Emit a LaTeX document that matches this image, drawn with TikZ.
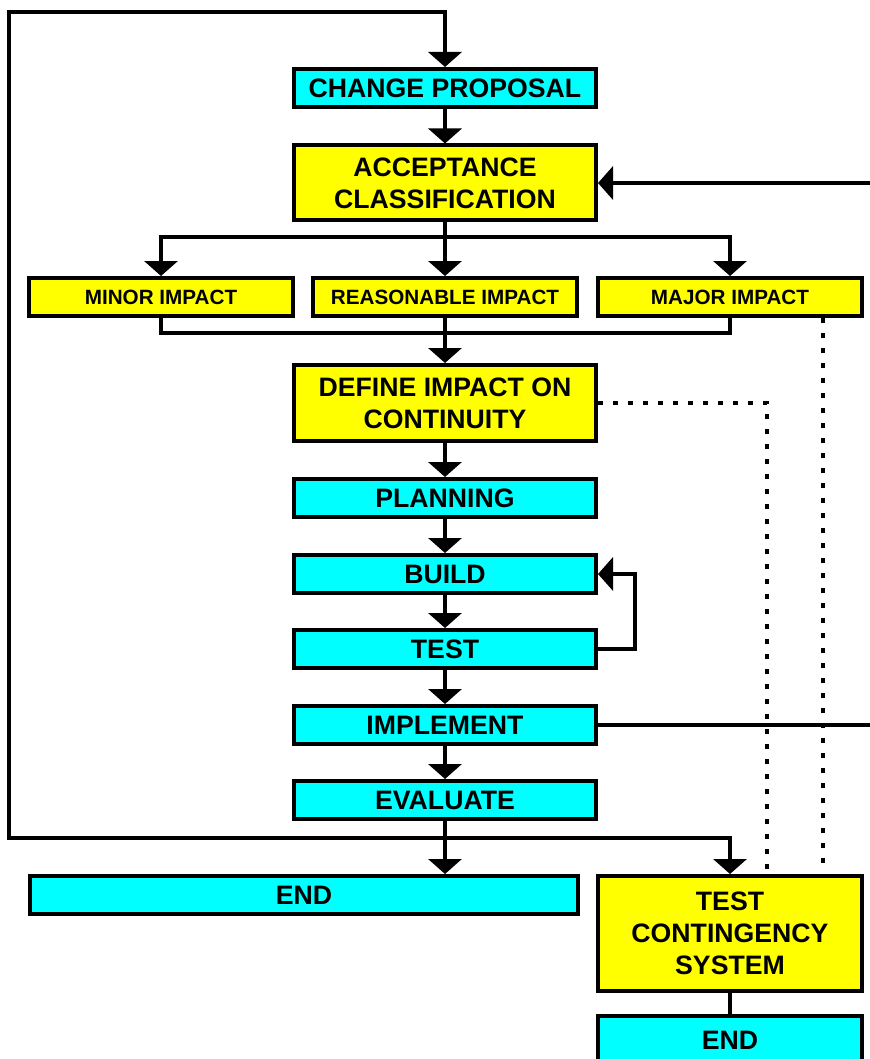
\documentclass[tikz,border=0pt]{standalone}
\usepackage{fontspec}
\setmainfont{Liberation Sans}
\usetikzlibrary{arrows.meta}
\definecolor{boxcyan}{RGB}{0,255,255}
\definecolor{boxyellow}{RGB}{255,255,0}

\begin{document}
\begin{tikzpicture}[
		x=0.75pt, y=-0.75pt,
		box/.style = {rectangle, draw, line width=3pt, inner sep=0pt, align=center,
			font=\bfseries\fontsize{20}{24}\selectfont,% big box text
			minimum width=226.5pt, minimum height=28.5pt},
		CB/.style = {box, fill=boxcyan},
		YB/.style = {box, fill=boxyellow},
		S/.style = {font=\bfseries\fontsize{15.5}{18}\selectfont, minimum width=197.5pt},
		L/.style = {line width=3.3pt},
		A/.style = {L, -{Triangle[length=11.25pt, width=24.75pt]}},
		D/.style = {line width=2.4pt, dash pattern=on 3.75pt off 7.5pt},
		]
		\useasboundingbox (0,0) rectangle (870,1059);
		% main column
		\node[CB] (cp) at (445,88) {CHANGE PROPOSAL};
		\node[YB, minimum height=56.25pt] (acc) at (445,183) {ACCEPTANCE\\CLASSIFICATION};
		\node[YB, S] (minor) at (161,297) {MINOR IMPACT};
		\node[YB, S] (reas) at (445,297) {REASONABLE IMPACT};
		\node[YB, S] (major) at (730,297) {MAJOR IMPACT};
		\node[YB, minimum height=57pt] (def) at (445,403) {DEFINE IMPACT ON\\CONTINUITY};
		\node[CB] (plan) at (445,498) {PLANNING};
		\node[CB] (build) at (445,574) {BUILD};
		\node[CB] (test) at (445,649) {TEST};
		\node[CB] (impl) at (445,725) {IMPLEMENT};
		\node[CB] (eval) at (445,800) {EVALUATE};
		\node[CB, minimum width=411pt] (end1) at (304,895) {END};
		\node[YB, minimum width=198pt, minimum height=86.25pt] (tcs) at (730,933.5) {TEST\\CONTINGENCY\\SYSTEM};
		\node[CB, minimum width=198pt, minimum height=36pt] (end2) at (730,1040) {END};
		% junctions
		\coordinate (s1) at (445,237);
		\coordinate (s2) at (445,333);
		\coordinate (j1) at (445,838);
		\coordinate (lc) at (9,838);
		\coordinate (tc) at (9,12);
		\coordinate (rc) at (874,0);
		\coordinate (d1) at (767,870);
		\coordinate (d2) at (823,870);
		% connectors
		\draw[A] (cp) -- (acc);
		\draw[A] (acc) -- (reas);
		\draw[A] (s1) -| (minor);
		\draw[A] (s1) -| (major);
		\draw[L] (minor) |- (s2) -| (major);
		\draw[A] (reas) -- (def);
		\draw[A] (def) -- (plan);
		\draw[A] (plan) -- (build);
		\draw[A] (build) -- (test);
		\draw[A] (test) -- (impl);
		\draw[A] (impl) -- (eval);
		\draw[A] (test.east) -- ++(37,0) |- (build);
		\draw[A] (impl.east) -- (impl.east -| rc) |- (acc);
		\draw[A] (eval) -- (eval |- end1.north);
		\draw[A] (j1) -| (tcs);
		\draw[A] (j1) -- (lc) -- (tc) -| (cp);
		\draw[L] (tcs) -- (end2);
		\draw[D] (def.east) -| (d1);
		\draw[D] (major.south -| d2) -- (d2);
	\end{tikzpicture}
\end{document}
